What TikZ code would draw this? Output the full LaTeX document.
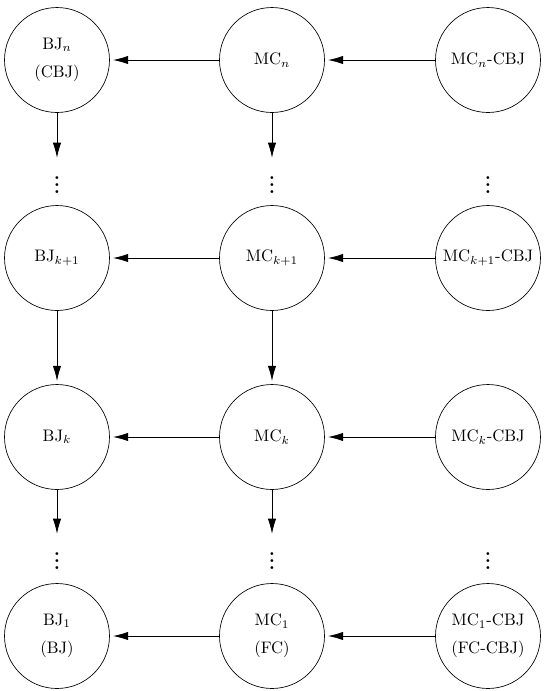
\documentclass[tikz,border=0pt]{standalone}
\usetikzlibrary{arrows.meta}
\begin{document}
\begin{tikzpicture}[x=0.6pt,y=-0.6pt,
  state/.style={draw, circle, minimum size=63pt, inner sep=0pt, align=center},
  arr/.style={-{Latex[length=9pt,width=5pt]}, shorten >=2pt}]
  \useasboundingbox (0,0) rectangle (544,691);
  % top row
  \node[state] (bjn) at (57,60) {BJ$_n$\\[5pt](CBJ)};
  \node[state] (mcn) at (272,60) {MC$_n$};
  \node[state] (cbjn) at (488,60) {MC$_n$-CBJ};
  % row k+1
  \node[state] (bjk1) at (57,258) {BJ$_{k+1}$};
  \node[state] (mck1) at (272,258) {MC$_{k+1}$};
  \node[state] (cbjk1) at (488,258) {MC$_{k+1}$-CBJ};
  % row k
  \node[state] (bjk) at (57,437) {BJ$_k$};
  \node[state] (mck) at (272,437) {MC$_k$};
  \node[state] (cbjk) at (488,437) {MC$_k$-CBJ};
  % bottom row
  \node[state] (bj1) at (57,636) {BJ$_1$\\[5pt](BJ)};
  \node[state] (mc1) at (272,636) {MC$_1$\\[5pt](FC)};
  \node[state] (cbj1) at (488,636) {MC$_1$-CBJ\\[5pt](FC-CBJ)};
  % dots
  \foreach \c/\x in {a/57,b/272,c/488} {
    \node[font=\large\bfseries] (up\c) at (\x,180) {$\vdots$};
    \node[font=\large\bfseries] (lo\c) at (\x,556) {$\vdots$};
  }
  % horizontal arrows
  \foreach \r in {n,k1,k,1} {
    \draw[arr] (mc\r) -- (bj\r);
    \draw[arr] (cbj\r) -- (mc\r);
  }
  % vertical arrows
  \draw[arr] (bjn) -- (upa);
  \draw[arr] (mcn) -- (upb);
  \draw[arr] (bjk1) -- (bjk);
  \draw[arr] (mck1) -- (mck);
  \draw[arr] (bjk) -- (loa);
  \draw[arr] (mck) -- (lob);
\end{tikzpicture}
\end{document}
